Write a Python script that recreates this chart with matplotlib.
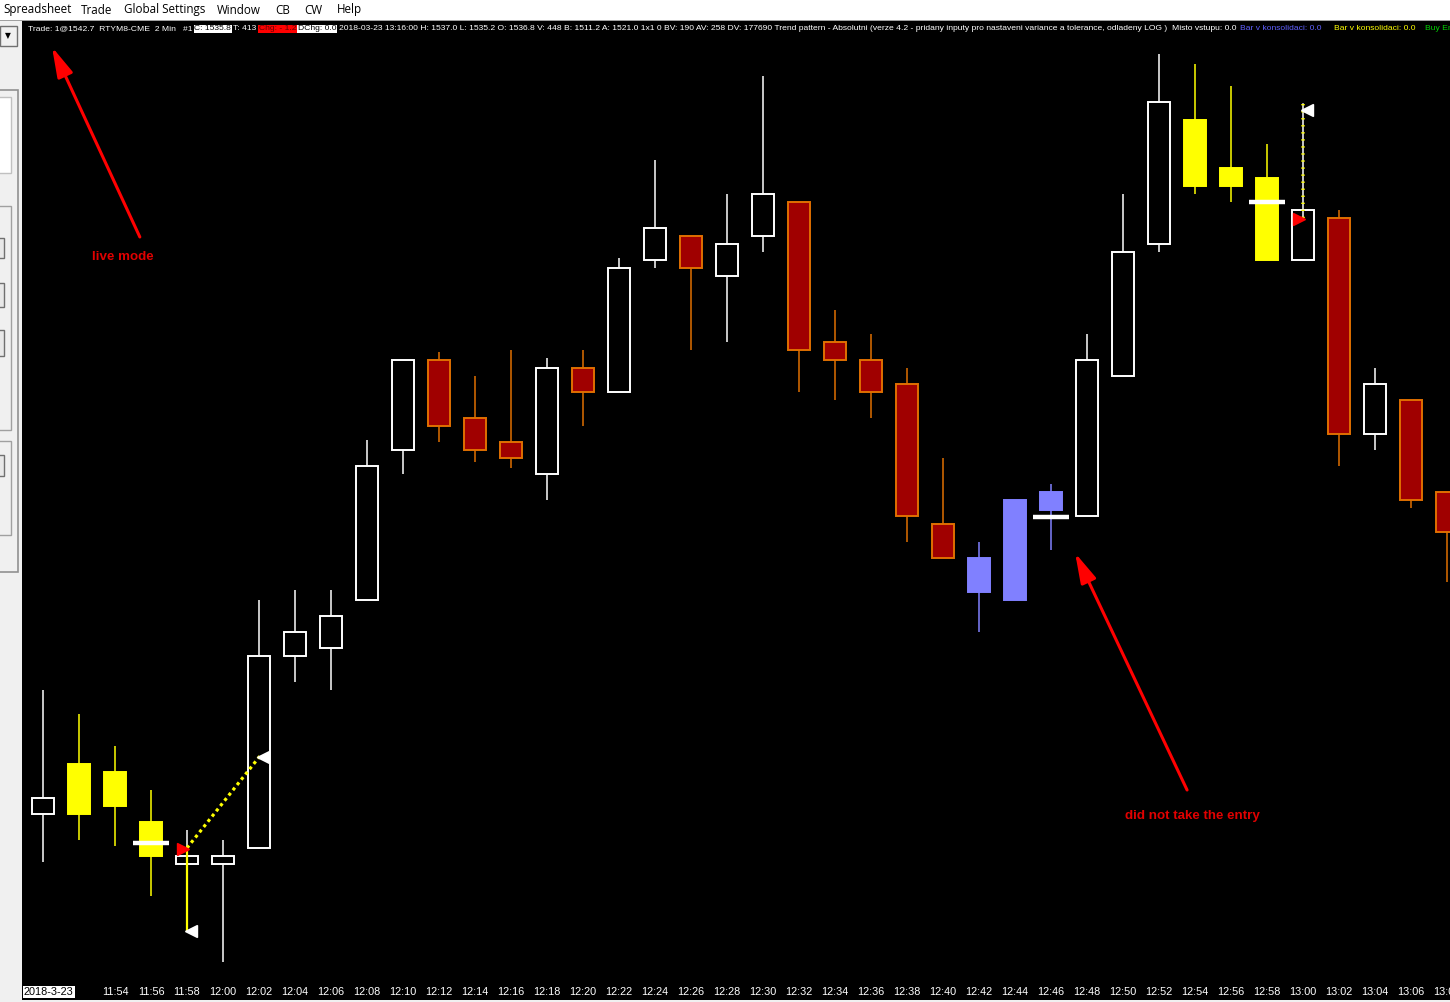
import matplotlib
matplotlib.use('Agg')
import matplotlib.pyplot as plt
from matplotlib import font_manager
from matplotlib.patches import Rectangle
import numpy as np

# --- data (2 min bars, RTYM8-CME) ---
times = ['11:50', '11:52', '11:54', '11:56', '11:58', '12:00', '12:02', '12:04', '12:06', '12:08',
         '12:10', '12:12', '12:14', '12:16', '12:18', '12:20', '12:22', '12:24', '12:26', '12:28',
         '12:30', '12:32', '12:34', '12:36', '12:38', '12:40', '12:42', '12:44', '12:46', '12:48',
         '12:50', '12:52', '12:54', '12:56', '12:58', '13:00', '13:02', '13:04', '13:06', '13:08']
opens = [1519.3, 1519.3, 1521.4, 1518.9, 1516.8, 1516.8, 1517.6, 1527.2, 1527.6, 1530.0,
         1537.5, 1542.0, 1539.1, 1537.9, 1536.3, 1541.6, 1540.4, 1547.0, 1548.2, 1546.2,
         1548.2, 1549.9, 1542.9, 1542.0, 1540.8, 1533.8, 1532.1, 1530.0, 1534.5, 1534.2,
         1541.2, 1547.8, 1554.0, 1551.6, 1551.1, 1547.0, 1549.1, 1538.3, 1540.0, 1535.4]
highs = [1525.5, 1524.3, 1522.7, 1520.5, 1518.5, 1518.0, 1530.0, 1530.5, 1530.5, 1538.0,
         1542.0, 1542.4, 1541.2, 1542.5, 1542.1, 1542.5, 1547.1, 1552.0, 1548.2, 1550.3,
         1556.2, 1549.9, 1544.5, 1543.3, 1541.6, 1537.1, 1532.9, 1535.0, 1535.8, 1543.3,
         1550.3, 1557.3, 1556.8, 1555.7, 1552.8, 1549.5, 1549.5, 1541.6, 1540.0, 1535.4]
lows = [1516.9, 1518.0, 1517.7, 1515.2, 1513.4, 1511.9, 1517.6, 1525.9, 1525.5, 1530.0,
        1536.3, 1537.9, 1536.9, 1536.6, 1535.0, 1538.7, 1540.4, 1546.6, 1542.5, 1542.9,
        1547.4, 1540.4, 1540.0, 1539.1, 1532.9, 1532.1, 1528.4, 1530.0, 1532.5, 1534.2,
        1541.2, 1547.4, 1550.3, 1549.9, 1547.0, 1547.0, 1536.7, 1537.5, 1534.6, 1530.9]
closes = [1520.1, 1521.8, 1519.7, 1517.2, 1517.2, 1517.2, 1527.2, 1528.4, 1529.2, 1536.7,
          1542.0, 1538.7, 1537.5, 1537.1, 1541.6, 1540.4, 1546.6, 1548.6, 1546.6, 1547.8,
          1550.3, 1542.5, 1542.0, 1540.4, 1534.2, 1532.1, 1530.4, 1535.0, 1535.4, 1542.0,
          1547.4, 1554.9, 1550.7, 1550.7, 1547.0, 1549.5, 1538.3, 1540.8, 1535.0, 1533.4]
# w = hollow up bar, r = down bar, y = yellow study colour, b = blue study colour
kinds = ['w', 'y', 'y', 'y', 'w', 'w', 'w', 'w', 'w', 'w',
         'w', 'r', 'r', 'r', 'w', 'r', 'w', 'w', 'r', 'w',
         'w', 'r', 'r', 'r', 'r', 'r', 'b', 'b', 'b', 'w',
         'w', 'w', 'y', 'y', 'y', 'w', 'r', 'w', 'r', 'r']

# study markers
dash_bars = [3, 28, 34]
dash_prices = [1517.85, 1534.15, 1549.9]
entry_bars = [3.9, 34.9]           # red triangles
entry_prices = [1517.55, 1549.05]
target_bars = [4.12, 6.1, 35.12]   # white triangles
target_prices = [1513.45, 1522.15, 1554.5]
signal_long_x = [4.0, 6.05]
signal_long_y = [1517.6, 1522.25]
stop_x = [4.0, 4.0]
stop_y = [1517.6, 1513.5]
signal_short_x = [35.0, 35.0]
signal_short_y = [1549.1, 1554.8]

# header of the chart window: (text, text colour, background)
header = [
    ('Trade: 1@1542.7  RTYM8-CME  2 Min   #1', 'white', None),
    ('C: 1535.8', 'black', 'white'),
    ('T: 413', 'white', None),
    ('Chg: - 1.2', '#600000', '#ff0000'),
    ('DChg: 0.0', 'black', 'white'),
    ('2018-03-23 13:16:00 H: 1537.0 L: 1535.2 O: 1536.8 V: 448 B: 1511.2 A: 1521.0 1x1 0 '
     'BV: 190 AV: 258 DV: 177690 Trend pattern - Absolutni (verze 4.2 - pridany inputy pro '
     'nastaveni variance a tolerance, odladeny LOG )  Misto vstupu: 0.0', 'white', None),
    ('Bar v konsolidaci: 0.0', '#6060ff', None),
    ('Bar v konsolidaci: 0.0', '#ffff00', None),
    ('Buy Entry', '#00d000', None),
]
header_gaps = [2, 2, 2, 2, 2, 4, 12, 10, 0]

W, H = 1450, 1002
names = {f.name for f in font_manager.fontManager.ttflist}
NARROW = 'Liberation Sans Narrow' if 'Liberation Sans Narrow' in names else 'Liberation Sans'
UI = 'Open Sans' if 'Open Sans' in names else 'DejaVu Sans'


def fx(x):
    return x / W


def fy(y):
    return 1 - y / H


fig = plt.figure(figsize=(W / 100, H / 100), dpi=100, facecolor='#f0f0f0')
renderer = fig.canvas.get_renderer()

# chart area
ax = fig.add_axes([fx(22), fy(1000), 1428 / W, 980 / H])
ax.set_facecolor('black')
ax.set_xlim(-21 / 36, 1407 / 36)
ax.set_ylim(1510, 1559)
ax.set_xticks([])
ax.set_yticks([])
for s in ax.spines.values():
    s.set_visible(False)

fills = {'w': 'black', 'r': '#a00000', 'y': '#ffff00', 'b': '#8080ff'}
edges = {'w': 'white', 'r': '#e07000', 'y': '#ffff00', 'b': '#8080ff'}
wicks = {'w': 'white', 'r': '#e07000', 'y': '#ffff00', 'b': '#8080ff'}

x = np.arange(len(times))
o = np.array(opens)
c = np.array(closes)
for i, k in enumerate(kinds):
    ax.vlines(x[i], lows[i], highs[i], color=wicks[k], lw=1.1, zorder=2)
    ax.bar(x[i], abs(c[i] - o[i]), bottom=min(o[i], c[i]), width=0.63,
           color=fills[k], edgecolor=edges[k], linewidth=1.4, zorder=3)

# study drawings
ax.hlines(dash_prices, np.array(dash_bars) - 0.5, np.array(dash_bars) + 0.5,
          color='white', lw=3.2, zorder=4)
ax.plot(signal_long_x, signal_long_y, color='yellow', lw=2.3, ls=(0, (1, 1.1)), zorder=5)
ax.plot(stop_x, stop_y, color='yellow', lw=1.6, zorder=5)
ax.plot(signal_short_x, signal_short_y, color='white', lw=1.1, zorder=5)
ax.plot(signal_short_x, signal_short_y, color='yellow', lw=2.6, ls=(0, (0.35, 1.6)), zorder=6)
ax.plot(entry_bars, entry_prices, ls='none', marker='>', color='red', ms=8, mec='red', zorder=7)
ax.plot(target_bars, target_prices, ls='none', marker='<', color='white', ms=8, mec='white', zorder=7)

# hand-drawn notes
arrow = dict(arrowstyle='-|>,head_length=1.3,head_width=0.35', color='red', lw=2.2,
             mutation_scale=14, shrinkA=0, shrinkB=0)
ax.annotate('', xy=(0.25, 1557.65), xytext=(2.69, 1548.15), arrowprops=arrow, zorder=8)
ax.annotate('', xy=(28.67, 1532.35), xytext=(31.78, 1520.5), arrowprops=arrow, zorder=8)
ax.text(2.22, 1547.15, 'live mode', color='#e00000', fontsize=9.6, fontweight='bold',
        family='Liberation Sans', ha='center', va='center')
ax.text(31.92, 1519.2, 'did not take the entry', color='#e00000', fontsize=9.6,
        fontweight='bold', family='Liberation Sans', ha='center', va='center')

# time axis labels inside the chart
for i in range(2, len(times) - 1):
    ax.text(x[i], 0.008, times[i], transform=ax.get_xaxis_transform(), color='white',
            fontsize=7.8, family=NARROW, ha='center', va='center', clip_on=False)
ax.text(x[-1], 0.008, times[-1], transform=ax.get_xaxis_transform(), color='white',
        fontsize=7.8, family=NARROW, ha='center', va='center', clip_on=True)
fig.text(fx(24), fy(992), '2018-3-23', color='black', fontsize=7.8, family=NARROW,
         va='center', bbox=dict(boxstyle='square,pad=0.12', fc='white', ec='none'))

# menu bar
fig.add_artist(Rectangle((0, fy(20)), 1, 20 / H, transform=fig.transFigure,
                         fc='white', ec='none'))
fig.add_artist(Rectangle((0, fy(21)), 1, 1 / H, transform=fig.transFigure,
                         fc='#a0a0a0', ec='none'))
menu = ['Spreadsheet', 'Trade', 'Global Settings', 'Window', 'CB', 'CW', 'Help']
menu_x = [3, 81, 124, 217, 275, 304, 337]
for m, mx in zip(menu, menu_x):
    fig.text(fx(mx), fy(10), m, fontsize=8.4, family=UI, va='center', color='black')

# header line: segments flow one after another
hx = 28
for (txt, col, bg), gap in zip(header, header_gaps):
    bbox = dict(boxstyle='square,pad=0.1', fc=bg, ec='none') if bg else None
    t = fig.text(fx(hx), fy(29), txt, color=col, fontsize=6.1, family=NARROW,
                 va='center', bbox=bbox)
    if txt.startswith('Buy'):
        t.set_clip_on(True)
    hx += t.get_window_extent(renderer=renderer).width + gap


# left tool panel
def box(x0, y0, x1, y1, fc='none', ec='#a0a0a0', lw=1.0):
    fig.add_artist(Rectangle((fx(x0), fy(y1)), fx(x1 - x0), (y1 - y0) / H,
                             transform=fig.transFigure, fc=fc, ec=ec, lw=lw))


box(0, 21, 22, 1002, fc='#f0f0f0', ec='none')
box(0, 26, 17, 46, fc='#f0f0f0', ec='#707070')
fig.text(fx(8), fy(36), '\u25bc', fontsize=5.5, ha='center', va='center', color='black')
box(-2, 90, 18, 572, ec='#909090', lw=1.2)
box(-2, 97, 11, 173, fc='white', ec='#c0c0c0')
box(-2, 206, 11, 430, ec='#a0a0a0')
for by in [(238, 258), (283, 307), (330, 356)]:
    box(-2, by[0], 4, by[1], fc='#e8e8e8', ec='#707070')
box(-2, 441, 11, 535, ec='#a0a0a0')
box(-2, 455, 4, 476, fc='#e8e8e8', ec='#707070')

fig.savefig('out.png', dpi=100, facecolor=fig.get_facecolor())
